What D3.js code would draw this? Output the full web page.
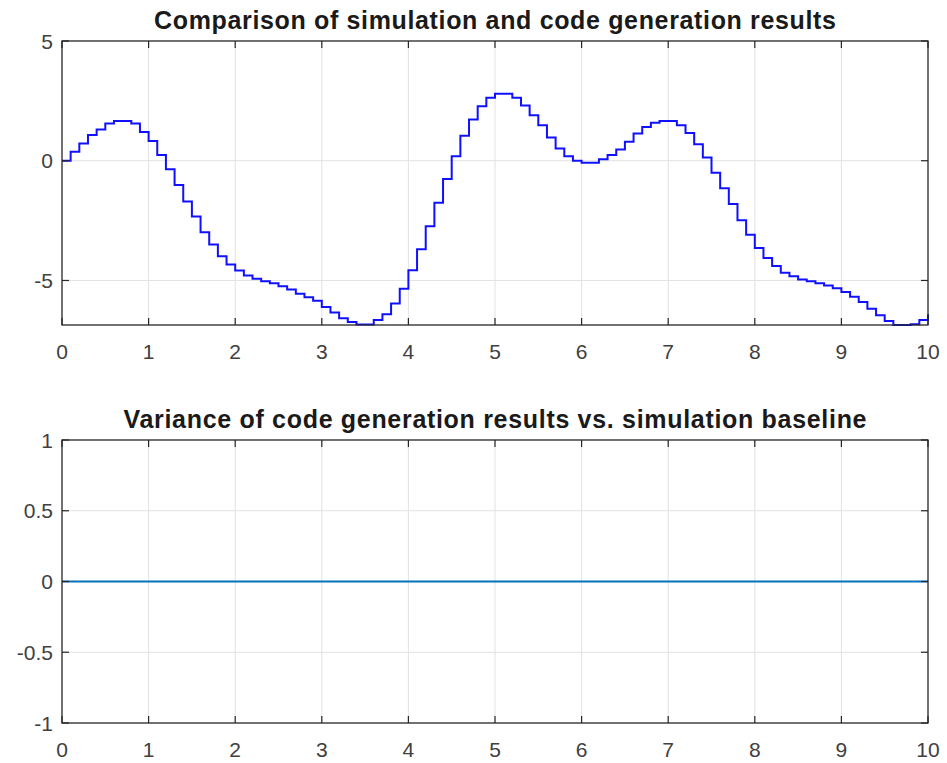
<!DOCTYPE html>
<html>
<head>
<meta charset="utf-8">
<script src="https://cdn.jsdelivr.net/npm/d3@7"></script>
<style>
  html, body { margin: 0; background: #ffffff; }
  svg { display: block; }
  text { font-family: "Liberation Sans", Arial, Helvetica, sans-serif; }
</style>
</head>
<body>
<svg id="fig" width="947" height="763"></svg>
<script>
// Sample period of the discrete controller output (seconds)
const samplePeriod = 0.1;

// Simulation output, one value per sample from t = 0 to t = 10
const simulationOutput = [
   0.00,  0.37,  0.72,  1.07,  1.30,  1.55,  1.66,  1.66,  1.55,  1.20,
   0.82,  0.24, -0.36, -1.01, -1.70, -2.33, -2.99, -3.50, -3.99, -4.33,
  -4.58, -4.79, -4.93, -5.03, -5.12, -5.24, -5.38, -5.55, -5.70, -5.85,
  -6.11, -6.34, -6.58, -6.73, -6.84, -6.84, -6.65, -6.41, -5.96, -5.35,
  -4.57, -3.70, -2.74, -1.75, -0.76,  0.19,  1.04,  1.72,  2.27,  2.63,
   2.80,  2.80,  2.63,  2.31,  1.90,  1.48,  0.97,  0.51,  0.19,  0.00,
  -0.08, -0.08,  0.06,  0.24,  0.47,  0.79,  1.14,  1.41,  1.59,  1.66,
   1.66,  1.48,  1.16,  0.69,  0.14, -0.50, -1.15, -1.81, -2.49, -3.09,
  -3.64, -4.06, -4.40, -4.68, -4.82, -4.96, -5.03, -5.12, -5.21, -5.33,
  -5.48, -5.68, -5.90, -6.18, -6.45, -6.69, -6.86, -6.86, -6.83, -6.65,
  -6.41
];

// Generated-code (SIL) output reproduces the simulation sample for sample
const codegenOutput = simulationOutput.slice();

// Axis ticks
const xTicks = [0, 1, 2, 3, 4, 5, 6, 7, 8, 9, 10];
const xTickLabels = ["0", "1", "2", "3", "4", "5", "6", "7", "8", "9", "10"];
const topYTicks = [-5, 0, 5];
const topYTickLabels = ["-5", "0", "5"];
const bottomYTicks = [-1, -0.5, 0, 0.5, 1];
const bottomYTickLabels = ["-1", "-0.5", "0", "0.5", "1"];

const topTitle = "Comparison of simulation and code generation results";
const bottomTitle = "Variance of code generation results vs. simulation baseline";

// ---------------------------------------------------------------------------
const sampleTimes = simulationOutput.map((_, i) => +(i * samplePeriod).toFixed(1));
const variance = simulationOutput.map((v, i) => v - codegenOutput[i]);

const svg = d3.select("#fig");
const left = 62, right = 928;

const x = d3.scaleLinear().domain([0, 10]).range([left, right]);

const panels = [
  {
    top: 41, bottom: 325,
    title: topTitle, titleWidth: 682,
    yDomain: [d3.min(simulationOutput), 5],
    yTicks: topYTicks, yTickLabels: topYTickLabels,
    series: sampleTimes.map((t, i) => [t, simulationOutput[i]]),
    curve: d3.curveStepAfter,
    color: "#1010ff", width: 2
  },
  {
    top: 440, bottom: 723,
    title: bottomTitle, titleWidth: 743,
    yDomain: [-1, 1],
    yTicks: bottomYTicks, yTickLabels: bottomYTickLabels,
    series: sampleTimes.map((t, i) => [t, variance[i]]),
    curve: d3.curveLinear,
    color: "#0072bd", width: 2
  }
];

const axisColor = "#262626";
const gridColor = "#e2e2e2";
const tickLen = 7;

panels.forEach(p => {
  const y = d3.scaleLinear().domain(p.yDomain).range([p.bottom, p.top]);
  const g = svg.append("g");

  // grid lines
  g.append("g").selectAll("line.vx").data(xTicks.slice(1, -1)).join("line")
    .attr("x1", d => x(d)).attr("x2", d => x(d))
    .attr("y1", p.top).attr("y2", p.bottom)
    .attr("stroke", gridColor).attr("stroke-width", 1);
  g.append("g").selectAll("line.hy").data(p.yTicks.filter(v => y(v) > p.top + 1 && y(v) < p.bottom - 1)).join("line")
    .attr("x1", left).attr("x2", right)
    .attr("y1", d => y(d)).attr("y2", d => y(d))
    .attr("stroke", gridColor).attr("stroke-width", 1);

  // data line
  const line = d3.line().x(d => x(d[0])).y(d => y(d[1])).curve(p.curve);
  g.append("path").datum(p.series)
    .attr("d", line)
    .attr("fill", "none")
    .attr("stroke", p.color)
    .attr("stroke-width", p.width)
    .attr("stroke-linejoin", "miter");

  // inward ticks on all four sides
  const ticks = g.append("g").attr("stroke", axisColor).attr("stroke-width", 1.2);
  xTicks.forEach(v => {
    ticks.append("line").attr("x1", x(v)).attr("x2", x(v)).attr("y1", p.bottom).attr("y2", p.bottom - tickLen);
    ticks.append("line").attr("x1", x(v)).attr("x2", x(v)).attr("y1", p.top).attr("y2", p.top + tickLen);
  });
  p.yTicks.forEach(v => {
    ticks.append("line").attr("x1", left).attr("x2", left + tickLen).attr("y1", y(v)).attr("y2", y(v));
    ticks.append("line").attr("x1", right).attr("x2", right - tickLen).attr("y1", y(v)).attr("y2", y(v));
  });

  // axes box
  g.append("rect")
    .attr("x", left).attr("y", p.top)
    .attr("width", right - left).attr("height", p.bottom - p.top)
    .attr("fill", "none").attr("stroke", axisColor).attr("stroke-width", 1.3);

  // tick labels
  g.append("g").selectAll("text").data(xTicks).join("text")
    .attr("x", d => x(d)).attr("y", p.bottom + 34)
    .attr("text-anchor", "middle")
    .attr("font-size", 21).attr("fill", "#404040")
    .text((d, i) => xTickLabels[i]);
  g.append("g").selectAll("text").data(p.yTicks).join("text")
    .attr("x", left - 9).attr("y", d => y(d))
    .attr("dy", "0.36em")
    .attr("text-anchor", "end")
    .attr("font-size", 21).attr("fill", "#404040")
    .text((d, i) => p.yTickLabels[i]);

  // title
  g.append("text")
    .attr("x", (left + right) / 2).attr("y", p.top - 12)
    .attr("text-anchor", "middle")
    .attr("font-size", 25).attr("font-weight", "bold").attr("fill", "#1a1a1a")
    .attr("textLength", p.titleWidth).attr("lengthAdjust", "spacing")
    .text(p.title);
});
</script>
</body>
</html>
